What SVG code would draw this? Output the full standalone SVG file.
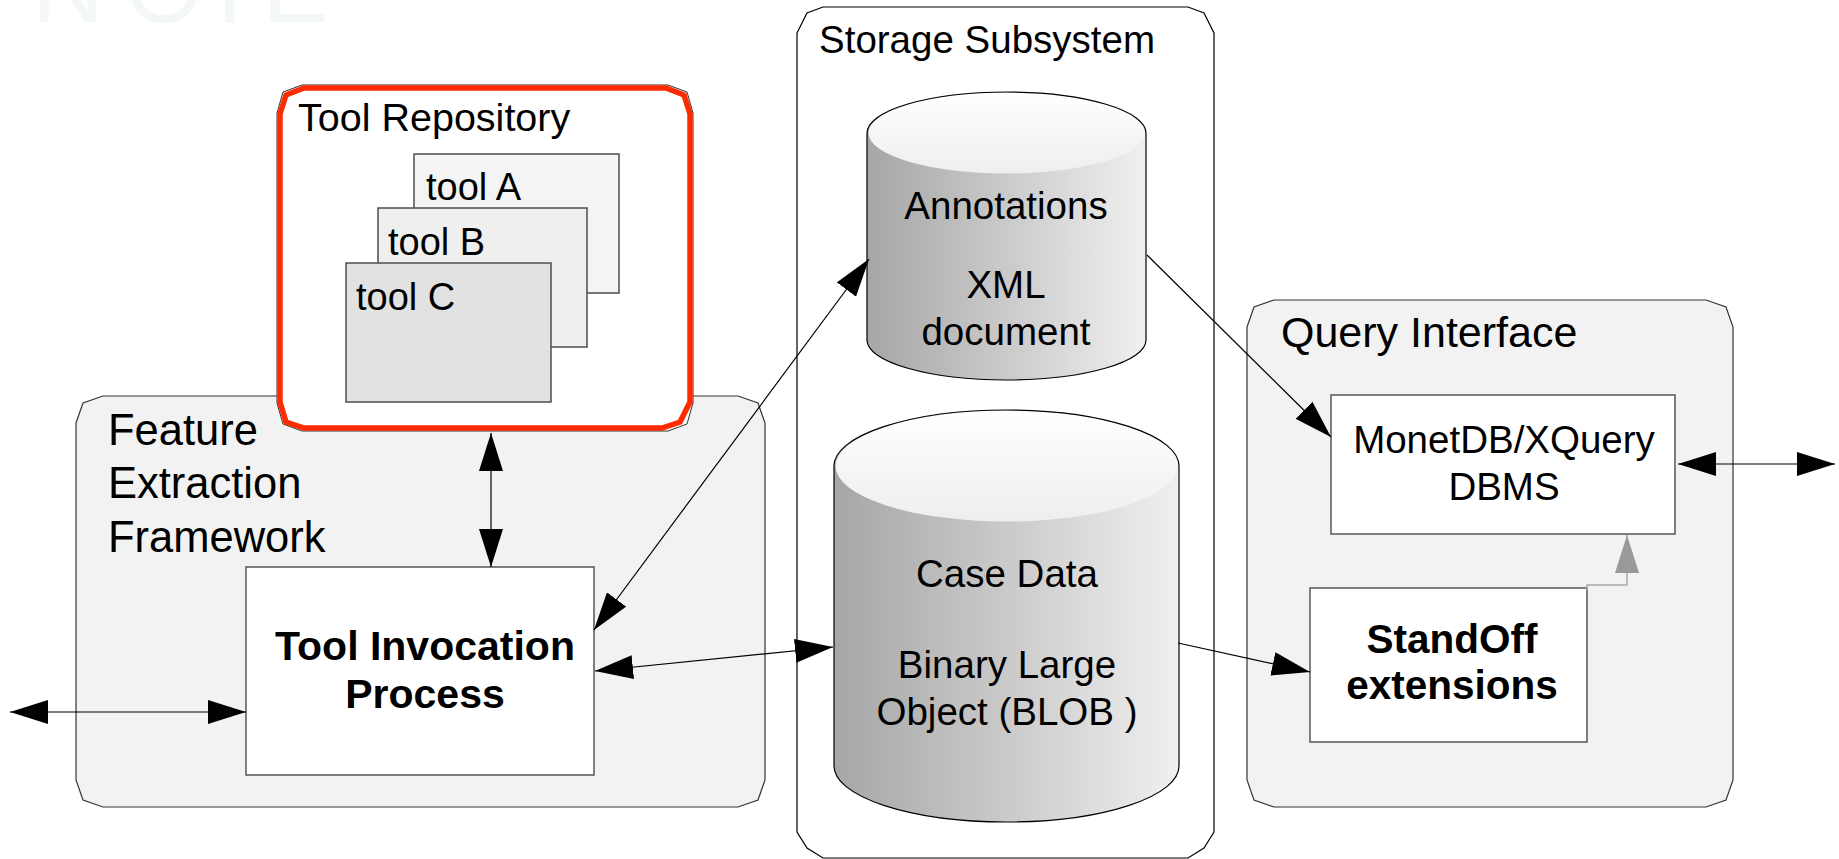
<svg xmlns="http://www.w3.org/2000/svg" width="1839" height="859" viewBox="0 0 1839 859">
<style>
.t{font-family:"Liberation Sans",Arial,sans-serif;fill:#000}
.c{text-anchor:middle}
.b{font-weight:bold}
.grp{fill:#f2f2f2;stroke:#333;stroke-width:1.2}
.box{fill:#fff;stroke:#555;stroke-width:1.5}
.tool{stroke:#4d4d4d;stroke-width:1.5}
.cyl{stroke:#000;stroke-width:1.2;fill:none}
.con{stroke:#000;stroke-width:1.2;fill:none}
</style>
<defs>
<marker id="ah" viewBox="0 0 38 24" refX="38" refY="12" markerWidth="38" markerHeight="24" markerUnits="userSpaceOnUse" orient="auto-start-reverse"><path d="M0,0 L38,12 L0,24 Z" fill="#000"/></marker>
<marker id="ahg" viewBox="0 0 38 24" refX="38" refY="12" markerWidth="38" markerHeight="24" markerUnits="userSpaceOnUse" orient="auto-start-reverse"><path d="M0,0 L38,12 L0,24 Z" fill="#999"/></marker>
<linearGradient id="side" x1="0" y1="0" x2="1" y2="0"><stop offset="0" stop-color="#a6a6a6"/><stop offset="0.5" stop-color="#cacaca"/><stop offset="1" stop-color="#f0f0f0"/></linearGradient>
<linearGradient id="cap" x1="0" y1="0" x2="0" y2="1"><stop offset="0" stop-color="#ffffff"/><stop offset="1" stop-color="#eeeeee"/></linearGradient>
</defs>
<rect width="1839" height="859" fill="#fff"/>
<text x="32 125 199 262" y="22" font-family="Liberation Sans, Arial, sans-serif" font-size="100" fill="#f4f7f8">NOTE</text>

<g id="feature-extraction-framework">
<path class="grp" d="M76,423 L83,403 L103,396 L738,396 L758,403 L765,423 L765,780 L758,800 L738,807 L103,807 L83,800 L76,780 Z"/>
<text class="t" x="108" y="445" font-size="43.5">Feature</text>
<text class="t" x="108" y="498" font-size="43.5">Extraction</text>
<text class="t" x="108" y="552" font-size="43.5">Framework</text>
</g>

<g id="storage-subsystem">
<path d="M797,33 L807,13 L823,7 L1188,7 L1204,13 L1214,33 L1214,832 L1204,848 L1188,858 L823,858 L807,848 L797,832 Z" fill="#fff" stroke="#000" stroke-width="1.2"/>
<text class="t" x="819" y="53" font-size="38.5">Storage Subsystem</text>
</g>

<g id="query-interface">
<path class="grp" d="M1247,327 L1254,307 L1274,300 L1706,300 L1726,307 L1733,327 L1733,780 L1726,800 L1706,807 L1274,807 L1254,800 L1247,780 Z"/>
<text class="t" x="1281" y="347" font-size="43">Query Interface</text>
</g>

<g id="tool-repository">
<path d="M277,113 L283,92 L302,85 L668,85 L687,92 L693,113 L693,403 L687,424 L668,431 L302,431 L283,424 L277,403 Z" fill="#fff" stroke="#333" stroke-width="1"/>
<path d="M280,114 L286,95 L304,88 L666,88 L684,95 L690,114 L690,402 L680,422 L662,428 L304,428 L286,422 L280,402 Z" fill="#fff" stroke="#ff2b00" stroke-width="5.5"/>
<text class="t" x="298" y="131" font-size="39.5">Tool Repository</text>
<g id="tool-a"><rect class="tool" x="414" y="154" width="205" height="139" fill="#f4f4f4"/><text class="t" x="426" y="200" font-size="38">tool A</text></g>
<g id="tool-b"><rect class="tool" x="378" y="208" width="209" height="139" fill="#efefef"/><text class="t" x="388" y="255" font-size="38">tool B</text></g>
<g id="tool-c"><rect class="tool" x="346" y="263" width="205" height="139" fill="#e2e2e2"/><text class="t" x="356" y="310" font-size="38">tool C</text></g>
</g>

<g id="tool-invocation-process">
<rect class="box" x="246" y="567" width="348" height="208"/>
<text class="t c b" x="425" y="660" font-size="41">Tool Invocation</text>
<text class="t c b" x="425" y="708" font-size="41">Process</text>
</g>

<g id="annotations">
<path d="M867,133 A139.5,41 0 0 1 1146,133 L1146,340 A139.5,40 0 0 1 867,340 Z" fill="url(#side)"/>
<ellipse cx="1006.5" cy="133" rx="138" ry="40.5" fill="url(#cap)"/>
<path class="cyl" d="M867,133 A139.5,41 0 0 1 1146,133 L1146,340 A139.5,40 0 0 1 867,340 Z"/>
<text class="t c" x="1006" y="219" font-size="38.5">Annotations</text>
<text class="t c" x="1006" y="298" font-size="38.5">XML</text>
<text class="t c" x="1006" y="345" font-size="38.5">document</text>
</g>

<g id="case-data">
<path d="M834,466 A172.5,56 0 0 1 1179,466 L1179,766 A172.5,56 0 0 1 834,766 Z" fill="url(#side)"/>
<ellipse cx="1006.5" cy="466" rx="171" ry="55.5" fill="url(#cap)"/>
<path class="cyl" d="M834,466 A172.5,56 0 0 1 1179,466 L1179,766 A172.5,56 0 0 1 834,766 Z"/>
<text class="t c" x="1007" y="587" font-size="38.5">Case Data</text>
<text class="t c" x="1007" y="678" font-size="38.5">Binary Large</text>
<text class="t c" x="1007" y="725" font-size="38.5">Object (BLOB )</text>
</g>

<g id="monetdb">
<rect class="box" x="1331" y="395" width="344" height="139"/>
<text class="t c" x="1504" y="453" font-size="38.5">MonetDB/XQuery</text>
<text class="t c" x="1504" y="500" font-size="38.5">DBMS</text>
</g>

<g id="standoff">
<rect class="box" x="1310" y="588" width="277" height="154"/>
<text class="t c b" x="1452" y="653" font-size="40.5">StandOff</text>
<text class="t c b" x="1452" y="699" font-size="40.5">extensions</text>
</g>

<g id="connectors">
<path class="con" d="M491,433 L491,567" marker-start="url(#ah)" marker-end="url(#ah)"/>
<path class="con" d="M594,630 L869,259" marker-start="url(#ah)" marker-end="url(#ah)"/>
<path class="con" d="M595,671 L833,647" marker-start="url(#ah)" marker-end="url(#ah)"/>
<path class="con" d="M1147,255 L1331,437" marker-end="url(#ah)"/>
<path class="con" d="M1178,643 L1310,672" marker-end="url(#ah)"/>
<path class="con" d="M1678,464 L1835,464" marker-start="url(#ah)" marker-end="url(#ah)"/>
<path class="con" d="M10,712 L246,712" marker-start="url(#ah)" marker-end="url(#ah)"/>
<path d="M1587,590 L1587,585 L1627,585 L1627,535" fill="none" stroke="#aaa" stroke-width="1.5" marker-end="url(#ahg)"/>
</g>
</svg>
